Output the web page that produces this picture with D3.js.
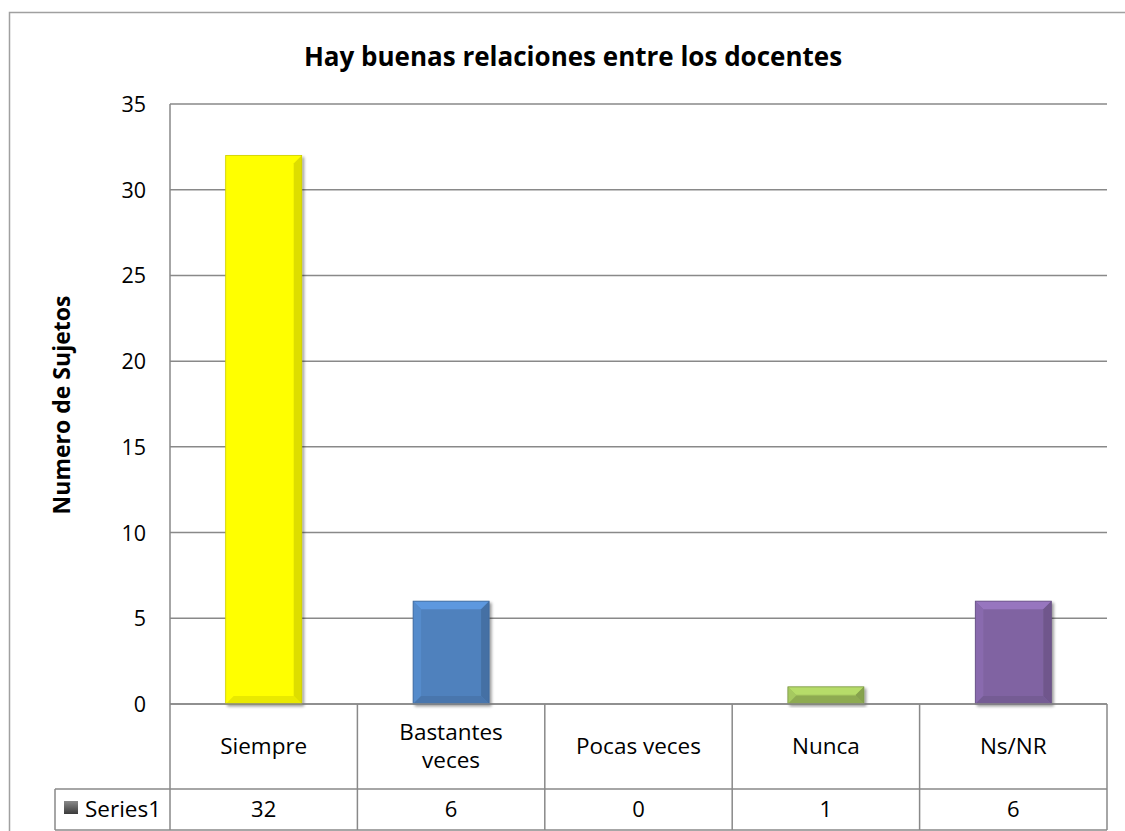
<!DOCTYPE html>
<html><head><meta charset="utf-8">
<script src="https://cdn.jsdelivr.net/npm/d3@7"></script>
<style>body{margin:0;background:#fff}svg{display:block}text{font-family:"Open Sans",sans-serif;fill:#000}</style>
</head><body>
<script>
const categories = ["Siempre", "Bastantes veces", "Pocas veces", "Nunca", "Ns/NR"];
const categoryLines = [["Siempre"], ["Bastantes", "veces"], ["Pocas veces"], ["Nunca"], ["Ns/NR"]];
const values = [32, 6, 0, 1, 6];
const colors = ["#FFFF00", "#4F81BD", "#9BBB59", "#9BBB59", "#8064A2"];
const yTicks = [0, 5, 10, 15, 20, 25, 30, 35];
const seriesName = "Series1";
const title = "Hay buenas relaciones entre los docentes";
const yTitle = "Numero de Sujetos";

const W = 1125, H = 831;
const FONT = "'Open Sans',sans-serif";
const svg = d3.select("body").append("svg").attr("width", W).attr("height", H);
const pLeft = 170, pRight = 1107, pTop = 104, pBottom = 704;
const x = d3.scaleBand().domain(categories).range([pLeft, pRight]).paddingInner(0).paddingOuter(0);
const y = d3.scaleLinear().domain([0, 35]).range([pBottom, pTop]);
const grid = "#898989";

// outer border
svg.append("path").attr("d", `M9.5,${H}V12.5H${W}`).attr("fill","none").attr("stroke","#a0a0a0").attr("stroke-width",1.5);

svg.append("text").attr("x", 573).attr("y", 57).attr("dy","0.35em").attr("text-anchor","middle")
  .style("font-size","26px").style("font-weight","bold").text(title);

// gridlines
svg.append("g").selectAll("line").data(yTicks).join("line")
  .attr("x1", pLeft).attr("x2", pRight).attr("y1", d=>y(d)).attr("y2", d=>y(d))
  .attr("stroke", grid).attr("stroke-width", 1.5);
// y axis line
svg.append("line").attr("x1",pLeft).attr("x2",pLeft).attr("y1",pTop).attr("y2",830).attr("stroke",grid).attr("stroke-width",1.5);

// y tick labels
const yAxis = d3.axisLeft(y).tickValues(yTicks).tickSize(0).tickPadding(24);
const ga = svg.append("g").attr("transform",`translate(${pLeft},0)`).call(yAxis);
ga.attr("font-family", null).attr("font-size", null);
ga.select(".domain").remove();
ga.selectAll("text").style("font-size","21.5px").style("font-family",FONT).attr("dy","0.35em").attr("fill","#000");

svg.append("text").attr("transform",`translate(62,405) rotate(-90)`).attr("dy","0.35em").attr("text-anchor","middle")
  .style("font-size","23px").style("font-weight","bold").text(yTitle);

// gradients & filter
const defs = svg.append("defs");
const f = defs.append("filter").attr("id","sh").attr("x","-20%").attr("y","-20%").attr("width","140%").attr("height","140%");
f.append("feGaussianBlur").attr("in","SourceAlpha").attr("stdDeviation",1.5);
f.append("feOffset").attr("dx",1.5).attr("dy",1.5).attr("result","b");
f.append("feComponentTransfer").append("feFuncA").attr("type","linear").attr("slope",0.4);
const m = f.append("feMerge"); m.append("feMergeNode"); m.append("feMergeNode").attr("in","SourceGraphic");

// bars
const bw = 76;
const bars = svg.append("g");
categories.forEach((c,i)=>{
  const v = values[i];
  if (v <= 0) return;
  const x0 = x(c) + x.bandwidth()/2 - bw/2, x1 = x0 + bw;
  const y0 = y(v), y1 = y(0);
  const col = d3.color(colors[i]);
  const b = Math.min(8, (y1-y0)/2);
  const g = bars.append("g").attr("filter","url(#sh)");
  g.append("rect").attr("x",x0).attr("y",y0).attr("width",bw).attr("height",y1-y0).attr("fill",col);
  g.append("path").attr("d",`M${x0},${y0}L${x1},${y0}L${x1-b},${y0+b}L${x0+b},${y0+b}Z`).attr("fill",col.brighter(0.5)).attr("opacity",0.9);
  g.append("path").attr("d",`M${x0},${y0}L${x0+b},${y0+b}L${x0+b},${y1-b}L${x0},${y1}Z`).attr("fill",col.brighter(0.2));
  g.append("path").attr("d",`M${x1},${y0}L${x1},${y1}L${x1-b},${y1-b}L${x1-b},${y0+b}Z`).attr("fill",col.darker(0.4));
  g.append("path").attr("d",`M${x0},${y1}L${x1},${y1}L${x1-b},${y1-b}L${x0+b},${y1-b}Z`).attr("fill",col.darker(0.25));
  g.append("rect").attr("x",x0).attr("y",y0).attr("width",bw).attr("height",y1-y0).attr("fill","none").attr("stroke",col.darker(0.6)).attr("stroke-width",0.8);
});

// data table
const rowTop = pBottom, rowMid = 789, rowBot = 830, tLeft = 55;
const tg = svg.append("g").attr("stroke",grid).attr("stroke-width",1.5);
tg.append("line").attr("x1",pLeft).attr("x2",pRight).attr("y1",rowTop).attr("y2",rowTop);
tg.append("line").attr("x1",tLeft).attr("x2",pRight).attr("y1",rowMid).attr("y2",rowMid);
tg.append("line").attr("x1",tLeft).attr("x2",pRight).attr("y1",rowBot).attr("y2",rowBot);
tg.append("line").attr("x1",tLeft).attr("x2",tLeft).attr("y1",rowMid).attr("y2",rowBot);
tg.selectAll("line.v").data(categories).join("line").attr("class","v")
  .attr("x1",d=>x(d)+x.bandwidth()).attr("x2",d=>x(d)+x.bandwidth()).attr("y1",rowTop).attr("y2",rowBot);

categories.forEach((c,i)=>{
  const cx = x(c)+x.bandwidth()/2;
  const lines = categoryLines[i];
  const t = svg.append("text").attr("x",cx).attr("text-anchor","middle").style("font-size","22.5px");
  const cy = (rowTop+rowMid)/2;
  const lh = 28;
  lines.forEach((l,k)=>{
    t.append("tspan").attr("x",cx).attr("y", cy + (k-(lines.length-1)/2)*lh).attr("dy","0.35em").text(l);
  });
  svg.append("text").attr("x",cx).attr("y",(rowMid+rowBot)/2).attr("dy","0.35em").attr("text-anchor","middle")
    .style("font-size","22px").text(values[i]);
});
// legend key
const lg = defs.append("linearGradient").attr("id","key").attr("x1",0).attr("y1",0).attr("x2",0).attr("y2",1);
lg.append("stop").attr("offset",0).attr("stop-color","#8a8a8a");
lg.append("stop").attr("offset",1).attr("stop-color","#3a3a3a");
svg.append("rect").attr("x",64).attr("y",801).attr("width",14).attr("height",13).attr("fill","url(#key)");
svg.append("text").attr("x",85).attr("y",(rowMid+rowBot)/2).attr("dy","0.35em").style("font-size","22.5px").text(seriesName);
</script>
</body></html>
